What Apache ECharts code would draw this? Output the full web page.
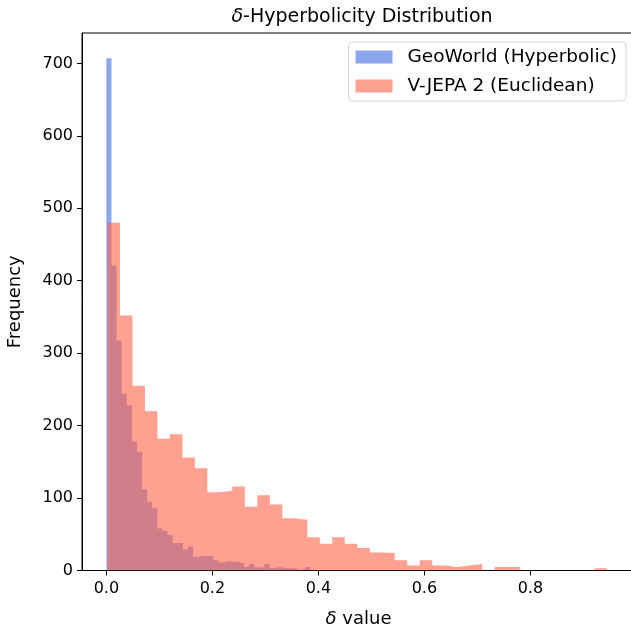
<!DOCTYPE html>
<html>
<head>
<meta charset="utf-8">
<script src="https://cdn.jsdelivr.net/npm/echarts@6/dist/echarts.min.js"></script>
<style>html,body{margin:0;padding:0;background:#fff}#c{width:631px;height:627px}</style>
</head>
<body>
<div id="c"></div>
<script>
// Histogram data
const seriesNames = ['GeoWorld (Hyperbolic)', 'V-JEPA 2 (Euclidean)'];
const blueStart = 0.0;
const blueBinWidth = 0.00962;
const blueCounts = [707, 421, 317, 244, 228, 178, 164, 112, 95, 86,
                    58, 55, 49, 38, 38, 29, 33, 19, 20, 20,
                    20, 14, 11, 13, 12, 12, 10, 5, 9, 4,
                    4, 9, 3, 5, 3, 3, 3, 1, 2, 5];
const redStart = 0.002;
const redBinWidth = 0.02357;
const redCounts = [480, 352, 255, 220, 182, 188, 156, 141, 108, 110,
                   116, 88, 104, 91, 72, 70, 46, 37, 46, 37,
                   31, 25, 24, 14, 7, 14, 7, 5, 7, 9,
                   0, 5, 5, 0, 0, 0, 0, 0, 0, 3];
const xTicks = [0, 0.2, 0.4, 0.6, 0.8];
const yTicks = [0, 100, 200, 300, 400, 500, 600, 700];

// step outline points: [left edge, count] per bin, plus closing right edge
function stepPoints(start, w, counts) {
  const pts = counts.map((c, i) => [start + i * w, c]);
  pts.push([start + counts.length * w, counts[counts.length - 1]]);
  return pts;
}
const blueColor = 'rgba(65,105,225,0.6)';
const redColor = 'rgba(255,99,71,0.6)';

function histSeries(name, color, pts) {
  return {
    name: name, type: 'line', step: 'end', data: pts,
    showSymbol: false, symbol: 'none',
    lineStyle: { width: 0, opacity: 0 },
    itemStyle: { color: color },
    areaStyle: { color: color, opacity: 1 },
    silent: true, clip: true
  };
}

const font = 'DejaVu Sans';
const chart = echarts.init(document.getElementById('c'));
chart.setOption({
  animation: false,
  backgroundColor: '#fff',
  title: {
    text: '{i|δ}-Hyperbolicity Distribution',
    left: 357, textAlign: 'center', top: 3,
    textStyle: {
      fontFamily: font, fontSize: 19, fontWeight: 'normal', color: '#000',
      rich: { i: { fontFamily: font, fontSize: 19, fontStyle: 'italic', color: '#000' } }
    }
  },
  legend: {
    data: seriesNames,
    orient: 'vertical',
    right: 5, top: 42,
    icon: 'rect',
    itemWidth: 37, itemHeight: 13, itemGap: 9,
    padding: [5, 9, 5, 7],
    borderColor: '#d6d6d6', borderWidth: 1, borderRadius: 4,
    backgroundColor: 'rgba(255,255,255,0.8)',
    textStyle: { fontFamily: font, fontSize: 18.5, color: '#000', padding: [0, 0, 0, 10], lineHeight: 20 }
  },
  grid: { left: 82, top: 33, width: 553, height: 537.5, outerBoundsMode: 'none', containLabel: false,
          show: true, borderColor: '#000', borderWidth: 1, backgroundColor: 'transparent' },
  xAxis: {
    type: 'value', min: -0.046, max: 0.9974,
    name: '{i|δ} value', nameLocation: 'middle', nameGap: 40,
    nameTextStyle: { fontFamily: font, fontSize: 18, color: '#000',
      rich: { i: { fontFamily: font, fontSize: 18, fontStyle: 'italic', color: '#000' } } },
    splitLine: { show: false },
    axisLine: { show: true, onZero: false, lineStyle: { color: '#000', width: 1 } },
    axisTick: { show: true, length: 5, customValues: xTicks, lineStyle: { color: '#000' } },
    axisLabel: { customValues: xTicks, fontFamily: font, fontSize: 16, color: '#000', margin: 10,
      formatter: v => v.toFixed(1) }
  },
  yAxis: {
    type: 'value', min: 0, max: 742,
    name: 'Frequency', nameLocation: 'middle', nameGap: 58, nameRotate: 90,
    nameTextStyle: { fontFamily: font, fontSize: 18, color: '#000' },
    splitLine: { show: false },
    axisLine: { show: true, onZero: false, lineStyle: { color: '#000', width: 1 } },
    axisTick: { show: true, length: 5, customValues: yTicks, lineStyle: { color: '#000' } },
    axisLabel: { customValues: yTicks, fontFamily: font, fontSize: 16, color: '#000', margin: 9 }
  },
  series: [
    histSeries(seriesNames[0], blueColor, stepPoints(blueStart, blueBinWidth, blueCounts)),
    histSeries(seriesNames[1], redColor, stepPoints(redStart, redBinWidth, redCounts))
  ]
});
</script>
</body>
</html>
